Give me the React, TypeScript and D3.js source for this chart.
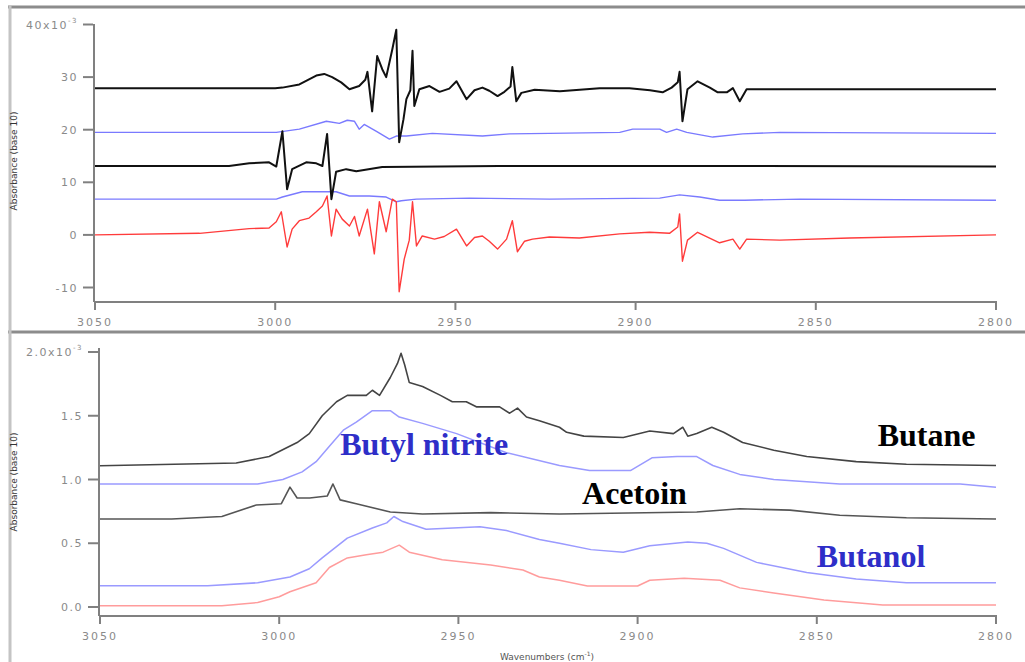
import React from "react";
import * as d3 from "d3";

type P = [number, number];

// ---------- top panel (x10^-3) ----------
const topTicksY = [40, 30, 20, 10, 0, -10];
const xTicks = [3050, 3000, 2950, 2900, 2850, 2800];
const bottomTicksY = [2.0, 1.5, 1.0, 0.5, 0.0];

const topBlack1: P[] = [
  [3050, 27.9], [3000, 27.9], [2998, 28.0], [2993.3, 28.6], [2988.6, 30.3], [2986.4, 30.6],
  [2984.2, 30.0], [2981.7, 29.0], [2979.4, 27.7], [2976.7, 28.3], [2975, 29.5], [2974.4, 31],
  [2973.1, 23.5], [2971.7, 34], [2970.3, 31.5], [2969.2, 30], [2967.5, 35.3], [2966.4, 39],
  [2965.6, 17.6], [2964.4, 22], [2963.6, 25.8], [2962.5, 27.5], [2961.9, 35], [2961.4, 24.5],
  [2960, 27.7], [2957.2, 28.3], [2954.4, 27.2], [2951.7, 27.8], [2949.7, 29.2], [2946.9, 25.8],
  [2944.7, 27.5], [2942.5, 28], [2940.6, 27.4], [2938.3, 26.4], [2936.4, 27.2], [2934.7, 28.2],
  [2934.2, 31.9], [2933.1, 25.4], [2931.7, 27], [2928, 27.6], [2921, 27.3], [2910, 27.9],
  [2901.7, 27.9], [2896, 27.5], [2892.5, 27.1], [2890, 28], [2888.3, 29], [2887.8, 31],
  [2887, 21.6], [2885.6, 27.7], [2882.8, 29.2], [2879.4, 28], [2877.2, 27.1], [2874.7, 27.1],
  [2873, 27.9], [2871.1, 25.4], [2869.2, 27.7], [2865.6, 27.7], [2800, 27.7],
];

const topBlue1: P[] = [
  [3050, 19.5], [2999.7, 19.5], [2993.3, 20.1], [2985.8, 21.6], [2982.2, 21.2], [2980, 21.8],
  [2978, 21.6], [2976.7, 20.1], [2975.3, 21], [2971.9, 19.7], [2968.3, 18.2], [2966.4, 18.8],
  [2963.6, 18.8], [2956.4, 19.3], [2942.5, 18.8], [2935, 19.2], [2923.9, 19.3], [2904.4, 19.5],
  [2900.8, 20.1], [2893.3, 20.1], [2891.4, 19.5], [2888.6, 20.1], [2885.8, 19.5], [2878.6, 18.6],
  [2870.3, 19.2], [2860, 19.5], [2800, 19.3],
];

const topBlack2: P[] = [
  [3050, 13.1], [3012.8, 13.1], [3007.2, 13.6], [3001.7, 13.8], [2999.7, 13.0], [2998, 19.7],
  [2996.7, 8.7], [2995.3, 12.5], [2991.4, 13.8], [2988.6, 13.6], [2986.9, 13.1], [2985.6, 19.2],
  [2984.4, 6.8], [2983.1, 12], [2980.3, 12.5], [2977.5, 12.1], [2970.3, 12.9], [2937.8, 13.1],
  [2882.2, 13.1], [2800, 13.0],
];

const topBlue2: P[] = [
  [3050, 6.8], [2999.7, 6.8], [2998, 7.2], [2992.5, 8.2], [2985.8, 8.2], [2983.1, 8.2],
  [2979.4, 7.4], [2973.9, 7.4], [2969.2, 7.2], [2966.4, 6.3], [2965, 6.5], [2960.8, 6.8],
  [2946.1, 7.0], [2923.9, 6.8], [2893.3, 7.0], [2887.8, 7.6], [2882.2, 7.2], [2876.7, 6.6],
  [2869.7, 6.6], [2854.4, 6.8], [2800, 6.6],
];

const topRed: P[] = [
  [3050, 0], [3021, 0.3], [3007.2, 1.2], [3001.7, 1.3], [2999.7, 2.5], [2998.3, 4.4],
  [2996.7, -2.3], [2995.3, 1.1], [2993.3, 2.7], [2990.6, 3.2], [2988.6, 4.4], [2986.9, 5.5],
  [2985.6, 7.4], [2984.4, -0.2], [2983.1, 4.9], [2981.4, 3], [2979.4, 1.7], [2978, 3.5],
  [2976.7, -0.2], [2974.4, 4.9], [2972.5, -3.6], [2971.1, 6.3], [2969.2, 0.6], [2967.5, 6.8],
  [2966.4, 6.3], [2965.6, -10.8], [2964.2, -4.6], [2962.8, -1], [2961.9, 6.3], [2960.8, -2.1],
  [2959.2, -0.2], [2955.8, -0.8], [2953.1, -0.3], [2949.7, 1.1], [2946.9, -2.1], [2944.7, -0.5],
  [2942.5, -0.2], [2940.6, -1.2], [2938.3, -2.7], [2935.8, -0.8], [2934.2, 2.7], [2932.8, -3.2],
  [2930.8, -1.2], [2928.6, -0.8], [2923.9, -0.4], [2915.6, -0.6], [2904.4, 0.2], [2896.1, 0.5],
  [2890.6, 0.3], [2888.3, 1.5], [2887.8, 4], [2887, -5], [2885.6, -1], [2882.8, 0.5],
  [2876.7, -1.5], [2873, -0.8], [2871.1, -2.7], [2869.2, -0.8], [2860, -1.0], [2840.6, -0.6],
  [2800, 0],
];

// ---------- bottom panel (x10^-3) ----------
const butane: P[] = [
  [3050, 1.108], [3012, 1.13], [3002.8, 1.18], [2995, 1.29], [2991.6, 1.36], [2988, 1.5],
  [2984, 1.61], [2981, 1.66], [2975.7, 1.66], [2974, 1.70], [2972, 1.66], [2969, 1.80],
  [2967, 1.91], [2966, 1.99], [2965, 1.90], [2963.7, 1.76], [2960, 1.73], [2955, 1.66],
  [2951.7, 1.61], [2947.8, 1.61], [2945, 1.57], [2938.5, 1.57], [2935.7, 1.52], [2933.5, 1.56],
  [2931, 1.49], [2927.4, 1.46], [2921.8, 1.41], [2919.8, 1.37], [2915, 1.34], [2904, 1.33],
  [2896.6, 1.38], [2890, 1.36], [2887.4, 1.41], [2886, 1.34], [2883.5, 1.36], [2879.3, 1.41],
  [2876, 1.37], [2870.7, 1.29], [2862, 1.23], [2852.8, 1.18], [2839, 1.14], [2825, 1.12],
  [2800, 1.11],
];

const butylNitrite: P[] = [
  [3050, 0.965], [3006, 0.965], [2999, 1.0], [2993.6, 1.06], [2989.7, 1.14], [2986, 1.26],
  [2982, 1.39], [2978.5, 1.45], [2974, 1.54], [2969, 1.54], [2966.5, 1.49], [2960, 1.44],
  [2950.5, 1.36], [2936.6, 1.21], [2921.8, 1.11], [2913.4, 1.07], [2902, 1.07], [2896, 1.17],
  [2889, 1.18], [2883.5, 1.18], [2879, 1.11], [2871.5, 1.04], [2862, 1.0], [2843.6, 0.965],
  [2810, 0.965], [2800, 0.94],
];

const acetoin: P[] = [
  [3050, 0.69], [3030, 0.69], [3016, 0.71], [3006.4, 0.80], [2999.4, 0.81], [2997, 0.94],
  [2995, 0.855], [2991.5, 0.855], [2986.6, 0.87], [2985, 0.965], [2983, 0.84], [2978.5, 0.81],
  [2969, 0.745], [2960, 0.73], [2941, 0.74], [2921.8, 0.73], [2883.5, 0.745], [2871.5, 0.77],
  [2857.5, 0.76], [2843.6, 0.72], [2825, 0.70], [2800, 0.69],
];

const butanol: P[] = [
  [3050, 0.167], [3020, 0.167], [3006, 0.19], [2997, 0.235], [2991.6, 0.30], [2988, 0.385],
  [2981, 0.54], [2974, 0.62], [2970, 0.66], [2968, 0.71], [2965.5, 0.67], [2959, 0.61],
  [2944, 0.63], [2936.6, 0.60], [2927.4, 0.53], [2921.8, 0.50], [2913, 0.45], [2904, 0.43],
  [2896.6, 0.48], [2886, 0.51], [2880.7, 0.50], [2876, 0.46], [2866.8, 0.35], [2852.8, 0.27],
  [2839, 0.22], [2825, 0.19], [2800, 0.19],
];

const redBottom: P[] = [
  [3050, 0.01], [3016, 0.01], [3006, 0.035], [3000, 0.08], [2997, 0.12], [2989.7, 0.19],
  [2986, 0.31], [2981, 0.385], [2975.7, 0.41], [2971, 0.43], [2966.5, 0.485], [2963.7, 0.43],
  [2954.5, 0.37], [2941, 0.33], [2932, 0.29], [2927.4, 0.235], [2921.8, 0.21], [2914, 0.165],
  [2900, 0.165], [2896.6, 0.21], [2887, 0.225], [2877, 0.21], [2871.5, 0.15], [2862, 0.11],
  [2848, 0.055], [2831.6, 0.015], [2800, 0.015],
];

const labels = [
  { text: "Butane", wn: 2833, v: 1.26, color: "#000000" },
  { text: "Butyl nitrite", wn: 2983, v: 1.19, color: "#2e2ec8" },
  { text: "Acetoin", wn: 2915.5, v: 0.81, color: "#000000" },
  { text: "Butanol", wn: 2850, v: 0.31, color: "#2e2ec8" },
];

const AX = "#808080";
const TXT = "#8a8a8a";

function Panel(props: {
  x: d3.ScaleLinear<number, number>;
  y: d3.ScaleLinear<number, number>;
  yTicks: number[];
  fmt: (v: number) => string;
  topLabel: string;
  axisX: number;
  axisTop: number;
  axisY: number;
  titleX: number;
  titleY: number;
}) {
  const { x, y, yTicks, fmt, topLabel, axisX, axisTop, axisY, titleX, titleY } = props;
  const maxT = d3.max(yTicks)!;
  return (
    <g>
      <line x1={axisX} x2={axisX} y1={axisTop} y2={axisY} stroke={AX} strokeWidth={2} />
      <line x1={axisX} x2={997} y1={axisY} y2={axisY} stroke={AX} strokeWidth={2} />
      {yTicks.map((t) => (
        <g key={t}>
          <line x1={axisX - 11} x2={axisX - 1} y1={y(t)} y2={y(t)} stroke={AX} strokeWidth={2} />
          {t === maxT ? (
            <text x={axisX - 16} y={y(t) + 4} textAnchor="end" fontSize={11} fill={TXT}
              fontFamily="DejaVu Sans" letterSpacing={1.5}>
              {topLabel}
              <tspan dy={-6} fontSize={7}>-3</tspan>
            </text>
          ) : (
            <text x={axisX - 16} y={y(t) + 4} textAnchor="end" fontSize={11} fill={TXT}
              fontFamily="DejaVu Sans" letterSpacing={1.5}>
              {fmt(t)}
            </text>
          )}
        </g>
      ))}
      {xTicks.map((t) => (
        <g key={t}>
          <line x1={x(t)} x2={x(t)} y1={axisY} y2={axisY + 8} stroke={AX} strokeWidth={2} />
          <text x={x(t)} y={axisY + 24} textAnchor="middle" fontSize={11} fill={TXT}
            fontFamily="DejaVu Sans" letterSpacing={2}>
            {t}
          </text>
        </g>
      ))}
      <text transform={`translate(${titleX},${titleY}) rotate(-90)`} textAnchor="middle"
        fontSize={9} fill="#333" fontFamily="DejaVu Sans">
        Absorbance (base 10)
      </text>
    </g>
  );
}

export default function App() {
  const xTop = d3.scaleLinear().domain([3050, 2800]).range([95, 996]);
  const yTop = d3.scaleLinear().domain([-10, 40]).range([287.5, 24.5]);
  const xBot = d3.scaleLinear().domain([3050, 2800]).range([100, 996]);
  const yBot = d3.scaleLinear().domain([0, 2.0]).range([607, 352]);

  const lineTop = d3.line<P>().x((d) => xTop(d[0])).y((d) => yTop(d[1]));
  const lineBot = d3.line<P>().x((d) => xBot(d[0])).y((d) => yBot(d[1]));

  return (
    <div style={{ position: "absolute", left: 0, top: 0 }}>
      <svg width={1025} height={662} style={{ display: "block", background: "#fff" }}>
        <rect x={0} y={0} width={1025} height={662} fill="#fff" />
        {/* frame */}
        <line x1={8} x2={1025} y1={7} y2={7} stroke="#8c8c8c" strokeWidth={3} />
        <line x1={8} x2={1025} y1={332} y2={332} stroke="#8c8c8c" strokeWidth={3} />
        <line x1={10} x2={10} y1={6} y2={662} stroke="#c4c4c4" strokeWidth={3} />

        <Panel x={xTop} y={yTop} yTicks={topTicksY} fmt={(v) => String(v)} topLabel="40x10"
          axisX={94} axisTop={24} axisY={302} titleX={17} titleY={161} />
        <Panel x={xBot} y={yBot} yTicks={bottomTicksY} fmt={(v) => v.toFixed(1)} topLabel="2.0x10"
          axisX={99} axisTop={348} axisY={616} titleX={17} titleY={482} />

        <text x={547} y={660} textAnchor="middle" fontSize={9} fill="#555" fontFamily="DejaVu Sans">
          Wavenumbers (cm
          <tspan dy={-4} fontSize={6}>-1</tspan>
          <tspan dy={4}>)</tspan>
        </text>

        {/* top spectra */}
        <g fill="none" strokeLinejoin="round">
          <path d={lineTop(topBlue1)!} stroke="#7a7aff" strokeWidth={1.4} />
          <path d={lineTop(topBlue2)!} stroke="#7a7aff" strokeWidth={1.4} />
          <path d={lineTop(topRed)!} stroke="#ff3b3b" strokeWidth={1.4} />
          <path d={lineTop(topBlack2)!} stroke="#111" strokeWidth={2} />
          <path d={lineTop(topBlack1)!} stroke="#111" strokeWidth={2} />
        </g>

        {/* bottom spectra */}
        <g fill="none" strokeLinejoin="round">
          <path d={lineBot(redBottom)!} stroke="#ff9c9c" strokeWidth={1.5} />
          <path d={lineBot(butanol)!} stroke="#9a9aff" strokeWidth={1.5} />
          <path d={lineBot(butylNitrite)!} stroke="#9a9aff" strokeWidth={1.5} />
          <path d={lineBot(acetoin)!} stroke="#555" strokeWidth={1.6} />
          <path d={lineBot(butane)!} stroke="#444" strokeWidth={1.6} />
        </g>

        {labels.map((l) => (
          <text key={l.text} x={xBot(l.wn)} y={yBot(l.v)} fontSize={32} fontWeight="bold"
            fontFamily="Liberation Serif, serif" fill={l.color}>
            {l.text}
          </text>
        ))}
      </svg>
    </div>
  );
}
